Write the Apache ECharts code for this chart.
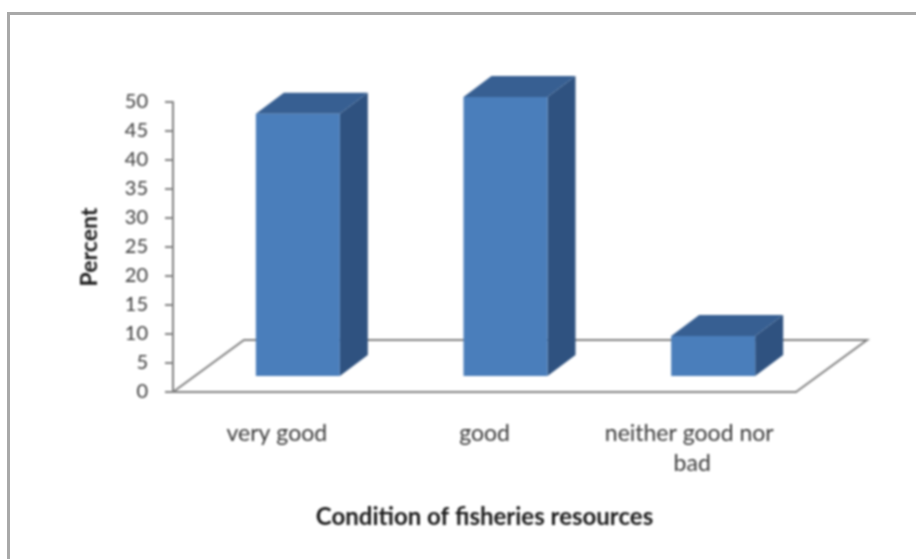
<!DOCTYPE html>
<html>
<head>
<meta charset="utf-8">
<style>
html,body{margin:0;padding:0;background:#fff;overflow:hidden}
#frame{position:absolute;left:7px;top:12px;width:1000px;height:600px;border:3px solid #a9a9a9;box-sizing:border-box}
#c{position:absolute;left:0;top:0;width:916px;height:559px;filter:blur(0.8px)}
</style>
<script src="https://cdn.jsdelivr.net/npm/echarts@6/dist/echarts.min.js"></script>
</head>
<body>
<div id="frame"></div>
<div id="c"></div>
<script>
var categories = ['very good', 'good', 'neither good nor bad'];
var percentValues = [45.2, 48.1, 6.9];
var yTicks = {min: 0, max: 50, step: 5};
var xAxisTitle = 'Condition of fisheries resources';
var yAxisTitle = 'Percent';

var chart = echarts.init(document.getElementById('c'));
var FONT = 'Lato';
var FLOOR_DX = 71, FLOOR_DY = -52;
var BAR_DX = 28, BAR_DY = -21, FRONT_SHIFT_X = 21, FRONT_SHIFT_Y = -16, BAR_W = 84;

chart.setOption({
  animation: false,
  backgroundColor: 'transparent',
  grid: {left: 173, right: 120, top: 102, bottom: 167},
  xAxis: {
    type: 'category', data: categories,
    name: xAxisTitle, nameLocation: 'middle', nameGap: 113,
    nameTextStyle: {fontFamily: FONT, fontWeight: 'bold', fontSize: 24, color: '#1a1a1a'},
    axisTick: {show: false},
    axisLine: {lineStyle: {color: '#808080', width: 2}},
    axisLabel: {fontFamily: FONT, fontSize: 23, color: '#3a3a3a', margin: 27, lineHeight: 30,
                width: 195, overflow: 'break', interval: 0}
  },
  yAxis: {
    type: 'value', min: yTicks.min, max: yTicks.max, interval: yTicks.step,
    name: yAxisTitle, nameLocation: 'middle', nameGap: 72,
    nameTextStyle: {fontFamily: FONT, fontWeight: 'bold', fontSize: 23, color: '#1a1a1a'},
    splitLine: {show: false},
    axisLine: {show: true, lineStyle: {color: '#808080', width: 2}},
    axisTick: {show: true, length: 8, lineStyle: {color: '#808080', width: 2}},
    axisLabel: {fontFamily: FONT, fontSize: 20, color: '#3a3a3a', margin: 25}
  },
  series: [
    {
      type: 'custom', coordinateSystem: 'cartesian2d', silent: true, z: 1,
      data: [[0, 0]],
      encode: {x: 0, y: 1},
      renderItem: function (params, api) {
        var cs = params.coordSys, y0 = cs.y + cs.height, x0 = cs.x, x1 = cs.x + cs.width;
        return {type: 'polyline', shape: {points: [
          [x0, y0], [x0 + FLOOR_DX, y0 + FLOOR_DY], [x1 + FLOOR_DX, y0 + FLOOR_DY], [x1, y0]
        ]}, style: {fill: null, stroke: '#808080', lineWidth: 2}};
      }
    },
    {
      type: 'custom', coordinateSystem: 'cartesian2d', silent: true, z: 3,
      data: categories.map(function (c, i) { return [i, percentValues[i]]; }),
      encode: {x: 0, y: 1},
      renderItem: function (params, api) {
        var top = api.coord([api.value(0), api.value(1)]);
        var base = api.coord([api.value(0), 0]);
        var l = top[0] + FRONT_SHIFT_X - BAR_W / 2, r = l + BAR_W;
        var t = top[1] + FRONT_SHIFT_Y, b = base[1] + FRONT_SHIFT_Y;
        return {type: 'group', children: [
          {type: 'polygon', shape: {points: [[r, t], [r + BAR_DX, t + BAR_DY], [r + BAR_DX, b + BAR_DY], [r, b]]},
           style: {fill: '#2f5280'}},
          {type: 'polygon', shape: {points: [[l, t], [l + BAR_DX, t + BAR_DY], [r + BAR_DX, t + BAR_DY], [r, t]]},
           style: {fill: '#375f92'}},
          {type: 'rect', shape: {x: l, y: t, width: BAR_W, height: b - t}, style: {fill: '#4a7ebb'}}
        ]};
      }
    }
  ]
});
</script>
</body>
</html>
